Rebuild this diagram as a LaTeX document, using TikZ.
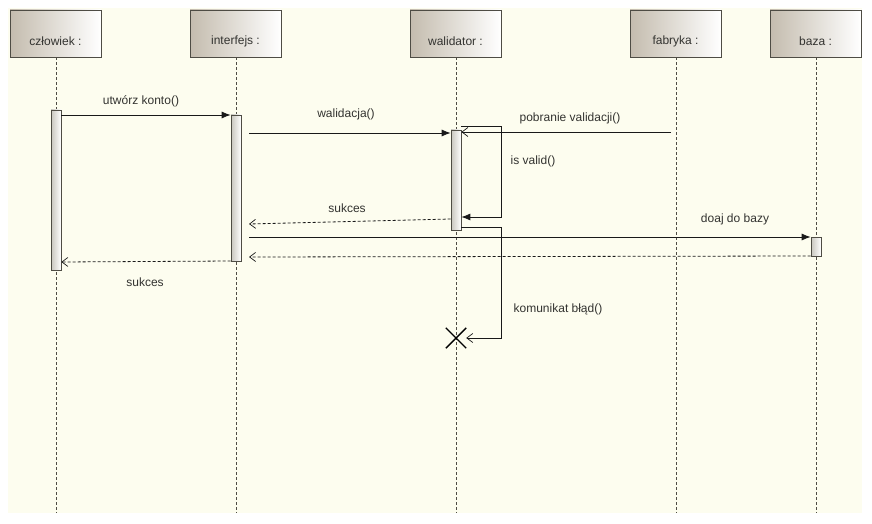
\documentclass[tikz,border=0pt]{standalone}
\usepackage{fontspec}
\setmainfont{Liberation Sans}
\usetikzlibrary{arrows.meta}
\definecolor{bgc}{HTML}{FDFDEF}
\definecolor{edge}{HTML}{4E4C44}
\definecolor{headl}{HTML}{C4BCAE}
\definecolor{txt}{HTML}{333330}
\definecolor{actl}{HTML}{C8C6BE}
\tikzset{
  head/.style={draw=edge, line width=0.8pt, left color=headl, right color=white, minimum width=91pt, minimum height=47pt, inner sep=0pt},
  headtext/.style={text=txt, font=\fontsize{12}{14}\selectfont, inner sep=0pt},
  life/.style={draw=edge, dashed, dash pattern=on 3pt off 2pt, line width=0.7pt},
  act/.style={draw=edge, line width=0.7pt, left color=actl, right color=white, minimum width=10pt, inner sep=0pt},
  msg/.style={draw=black!90, line width=0.8pt, -{Latex[length=9pt,width=7pt]}},
  ret/.style={draw=black!90, line width=0.8pt, dashed, dash pattern=on 3pt off 2pt, -{Straight Barb[length=6pt,width=9pt,line width=0.7pt]}},
  open/.style={draw=black!90, line width=0.8pt, -{Straight Barb[length=6pt,width=9pt,line width=0.7pt]}},
  lbl/.style={text=txt, font=\fontsize{12}{14}\selectfont, inner sep=0pt}
}
\begin{document}
\begin{tikzpicture}[x=1pt,y=-1pt]
\useasboundingbox (0,0) rectangle (872,524);
\fill[bgc] (8,8) rectangle (862,513);
% headers
\node[head] (h1) at (55.5,33.5) {};
\node[head] (h2) at (235.5,33.5) {};
\node[head] (h3) at (455.5,33.5) {};
\node[head] (h4) at (675.5,33.5) {};
\node[head] (h5) at (815.5,33.5) {};
\node[headtext] (t1) at (55.5,41) {człowiek :};
\node[headtext] (t2) at (235.5,41) {interfejs :};
\node[headtext] (t3) at (455.5,41) {walidator :};
\node[headtext] (t4) at (675.5,41) {fabryka :};
\node[headtext] (t5) at (815.5,41) {baza :};
% lifeline ends
\coordinate (e1) at (56,513);
\coordinate (e2) at (236,513);
\coordinate (e3) at (456,513);
\coordinate (e4) at (676,513);
\coordinate (e5) at (816,513);
\draw[life] (h1.south -| e1) -- (e1);
\draw[life] (h2.south -| e2) -- (e2);
\draw[life] (h3.south -| e3) -- (e3);
\draw[life] (h4.south -| e4) -- (e4);
\draw[life] (h5.south -| e5) -- (e5);
% activations
\node[act, minimum height=160pt] (a1) at (56,190) {};
\node[act, minimum height=146pt] (a2) at (236,188) {};
\node[act, minimum height=100pt] (a3) at (456,180) {};
\node[act, minimum height=19pt] (a4) at (816,246.5) {};
% destruction
\node[minimum size=20pt, inner sep=0pt] (x) at (456,338) {};
\draw[black, line width=1.4pt] (x.north west) -- (x.south east) (x.north east) -- (x.south west);
% free ends
\coordinate (s2) at (249,133);
\coordinate (f3) at (671,132);
\coordinate (r5) at (249,224);
\coordinate (s7) at (249,237);
\coordinate (r8) at (249,257);
\coordinate (lp) at (501,0);
% messages
\draw[msg] (a1.east |- 0,115) -- (a2.west |- 0,115);
\draw[msg] (s2) -- (a3.west |- s2);
\draw[open] (f3) -- (a3.east |- f3);
\draw[msg] (a3.east |- 0,126) -| (lp |- 0,217) -- (a3.east |- 0,217);
\draw[ret] (a3.west |- 0,219) -- (r5);
\draw[open] (a3.east |- 0,227) -| (lp |- x) -- (x.east);
\draw[msg] (s7) -- (a4.west |- s7);
\draw[ret] (a4.west |- 0,256) -- (r8);
\draw[ret] (a2.west |- 0,261) -- (a1.east |- 0,262);
% labels
\node[lbl] (l1) at (141,101) {utwórz konto()};
\node[lbl] (l2) at (346,114) {walidacja()};
\node[lbl] (l3) at (570,118) {pobranie validacji()};
\node[lbl] (l4) at (533,161) {is valid()};
\node[lbl] (l5) at (347,208) {sukces};
\node[lbl] (l6) at (735,219) {doaj do bazy};
\node[lbl] (l7) at (145,282) {sukces};
\node[lbl] (l8) at (558,309) {komunikat błąd()};
\end{tikzpicture}
\end{document}
